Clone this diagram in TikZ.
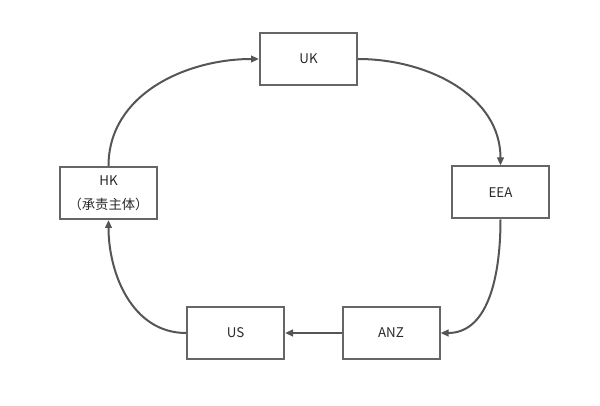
\documentclass[tikz,border=0pt]{standalone}
\usepackage{fontspec}
\setmainfont{Noto Sans CJK SC}
\usepackage{tikz}
\usetikzlibrary{arrows.meta,positioning}
\definecolor{boxgray}{HTML}{666666}
\definecolor{linegray}{HTML}{555555}
\definecolor{textgray}{HTML}{2a2a2a}

\begin{document}
\begin{tikzpicture}[
    x=0.75pt, y=-0.75pt,
    region/.style={draw=boxgray, line width=1.5pt, fill=white, minimum width=72.75pt, minimum height=39pt, inner sep=0pt, font=\fontsize{10pt}{18pt}\selectfont, text=textgray, align=center},
    flow/.style={draw=linegray, line width=1.5pt, -{Triangle[length=6pt,width=5pt]}}
]
\useasboundingbox (0,0) rectangle (600,406);

\node[region] (uk) at (308.5, 59) {UK};
\node[region] (eea) at (500.5, 192.5) {EEA};
\node[region] (anz) at (391, 333) {ANZ};
\node[region] (us) at (235.5, 333) {US};
\node[region] (hk) at (108.5, 193) {HK\\（承责主体）};

% 循环流向
\draw[flow] (uk.east) to[out=0, in=90] (eea.north);
\draw[flow] (eea.south) to[out=-90, in=0] (anz.east);
\draw[flow] (anz.west) -- (us.east);
\draw[flow] (us.west) to[out=180, in=-90] (hk.south);
\draw[flow] (hk.north) to[out=90, in=180] (uk.west);
\end{tikzpicture}
\end{document}
